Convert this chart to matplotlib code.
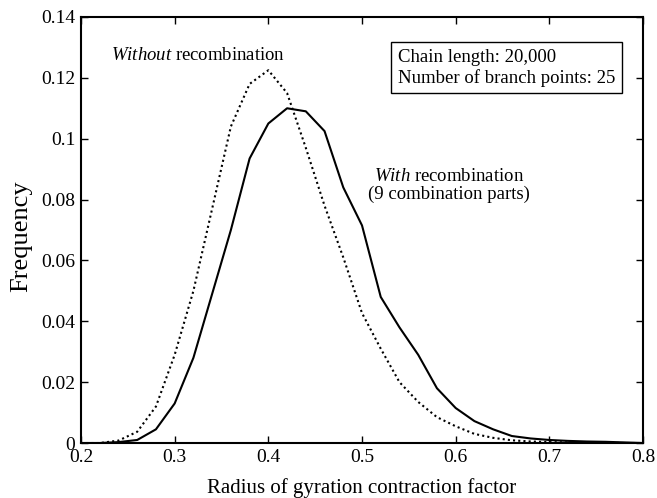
import numpy as np
import matplotlib.pyplot as plt

plt.rcParams['font.family'] = ['Liberation Serif', 'DejaVu Serif']
plt.rcParams['mathtext.fontset'] = 'custom'
plt.rcParams['mathtext.it'] = 'Liberation Serif:italic'
plt.rcParams['mathtext.rm'] = 'Liberation Serif'

# radius of gyration contraction factor (bin centres)
g = np.round(np.arange(0.20, 0.801, 0.02), 2)

# with recombination (9 combination parts)
freq_with = [0.0, 0.0, 0.0003, 0.001, 0.0045, 0.013, 0.028, 0.049, 0.070,
             0.0935, 0.105, 0.110, 0.109, 0.1025, 0.084, 0.0715, 0.048,
             0.038, 0.029, 0.018, 0.0115, 0.0072, 0.0045, 0.0023, 0.0015,
             0.001, 0.0007, 0.0005, 0.0004, 0.0002, 0.0]

# without recombination
freq_without = [0.0, 0.0, 0.0008, 0.0037, 0.012, 0.029, 0.050, 0.077, 0.104,
                0.118, 0.1225, 0.115, 0.097, 0.078, 0.061, 0.0427, 0.031,
                0.020, 0.0135, 0.0085, 0.0055, 0.003, 0.0017, 0.0009, 0.0005,
                0.0003, 0.0002, 0.0001, 0.0001, 0.0, 0.0]

fig = plt.figure(figsize=(6.57, 4.98), dpi=100)
ax = fig.add_axes([0.1233, 0.1104, 0.8554, 0.8555])

ax.plot(g, freq_without, color='black', lw=1.5, linestyle=(0, (1, 1.5)))
ax.plot(g, freq_with, color='black', lw=1.5)

ax.set_xlim(0.2, 0.8)
ax.set_ylim(0, 0.14)
ax.set_xticks([0.2, 0.3, 0.4, 0.5, 0.6, 0.7, 0.8])
ax.set_xticklabels(['0.2', '0.3', '0.4', '0.5', '0.6', '0.7', '0.8'])
ax.set_yticks([0, 0.02, 0.04, 0.06, 0.08, 0.1, 0.12, 0.14])
ax.set_yticklabels(['0', '0.02', '0.04', '0.06', '0.08', '0.1', '0.12', '0.14'])
ax.tick_params(direction='in', top=True, right=True, length=5, width=1,
               labelsize=14, pad=4)
for s in ax.spines.values():
    s.set_linewidth(1.5)

ax.set_xlabel('Radius of gyration contraction factor', fontsize=15, va='center')
ax.xaxis.set_label_coords(0.5, -0.1056)
ax.set_ylabel('Frequency', fontsize=19, va='center')
ax.yaxis.set_label_coords(-0.1068, 0.486)

ax.text(0.3253, 0.1274, r'$\mathit{Without}$ recombination', fontsize=13.5,
        ha='center', va='center')
ax.text(0.5927, 0.0877, r'$\mathit{With}$ recombination', fontsize=13.5,
        ha='center', va='center')
ax.text(0.5927, 0.0818, '(9 combination parts)', fontsize=13.5,
        ha='center', va='center')
ax.text(0.5383, 0.1233, 'Chain length: 20,000\nNumber of branch points: 25',
        fontsize=13.5, ha='left', va='center', linespacing=1.2,
        bbox=dict(boxstyle='square,pad=0.35', fc='white', ec='black', lw=1))

fig.savefig('out.png', dpi=100)
